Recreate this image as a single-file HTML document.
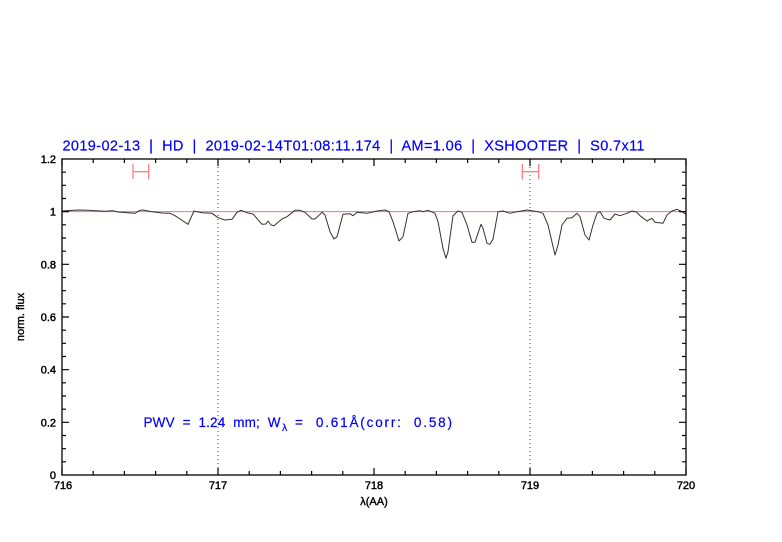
<!DOCTYPE html>
<html><head><meta charset="utf-8"><style>
html,body{margin:0;padding:0;background:#fff;}
svg{display:block;}
text{font-family:"Liberation Sans",sans-serif;}
</style></head><body>
<svg width="782" height="542" viewBox="0 0 782 542" xmlns="http://www.w3.org/2000/svg">
<rect width="782" height="542" fill="#fff"/>
<!-- title -->
<text x="62.5" y="150.5" font-size="14.5" fill="#0000ff" stroke="#0000ff" stroke-width="0.2" textLength="582" lengthAdjust="spacing" xml:space="preserve">2019-02-13  |  HD  |  2019-02-14T01:08:11.174  |  AM=1.06  |  XSHOOTER  |  S0.7x11</text>
<!-- dotted verticals -->
<line x1="218" y1="159" x2="218" y2="475" stroke="#444" stroke-width="1" stroke-dasharray="1,3"/>
<line x1="530" y1="159" x2="530" y2="475" stroke="#444" stroke-width="1" stroke-dasharray="1,3"/>
<!-- red unity line -->
<line x1="62" y1="211.67" x2="686" y2="211.67" stroke="#ff7070" stroke-width="1"/>
<!-- brackets -->
<g stroke="#ff8080" stroke-width="1.3" fill="none">
<path d="M133 171.7H148.7M133 163.5V179.3M148.7 163.5V179.3"/>
<path d="M522.3 171.7H538.7M522.3 164V179.3M538.7 164V179.3"/>
</g>
<!-- spectrum -->
<polyline fill="none" stroke="#333" stroke-width="1" stroke-linejoin="round" points="62,211 78,210 88,210.3 105,211.3 113,210.7 118,212 135,213.3 140,210.3 143,210 152,211.7 162,213 170,213.3 175,215.7 180,219 188,224.3 194,211 202,212.7 212,213.3 218,217.7 225,220 232,219.3 237,212.3 241,210.3 247,212.7 253,214 262,224.3 266,224 268,221 271,225 274,225.7 282,219 287,216.7 295,210.3 300,210.3 305,212.3 312,219 315,219 322,212.3 325,215 330,231.7 334,239 337,236.7 343,214.3 350,213.7 353,215.7 357,212.3 367,213.3 377,211 385,210 389,211.7 393,221.7 399,241 403,236.7 408,213.3 413,211.7 420,210.7 423,211.7 428,210.3 435,213.3 438,221.7 443,248.3 446,258.3 448,251.7 453,215.7 458,211 462,212.3 467,225 472,242.3 475,242.3 481,224.3 483,228.3 487,243.3 490,244.3 493,239 498,211.7 503,211 510,213.3 517,211.7 527,210 538,211.7 543,213.3 548,225 555,255 558,245 562,225 567,218.3 572,217.7 577,213.3 580,216.7 585,235 589,240 593,225 597,213.3 600,211.7 604,218.3 610,220 615,214 620,215.7 627,213.3 632,211 637,212.3 640,215.7 647,221 652,218.3 655,222.3 663,223.3 667,215 672,211 677,209.3 682,211.7 686,214.3"/>
<!-- frame -->
<rect x="62" y="159" width="624" height="316" fill="none" stroke="#000" stroke-width="1.3"/>
<!-- ticks -->
<path stroke="#000" stroke-width="1.2" fill="none" d="
M62 475V468M218 475V468M374 475V468M530 475V468M686 475V468
M93.2 475V471M124.4 475V471M155.6 475V471M186.8 475V471M249.2 475V471M280.4 475V471M311.6 475V471M342.8 475V471M405.2 475V471M436.4 475V471M467.6 475V471M498.8 475V471M561.2 475V471M592.4 475V471M623.6 475V471M654.8 475V471
M62 159V166M218 159V166M374 159V166M530 159V166M686 159V166
M93.2 159V163M124.4 159V163M155.6 159V163M186.8 159V163M249.2 159V163M280.4 159V163M311.6 159V163M342.8 159V163M405.2 159V163M436.4 159V163M467.6 159V163M498.8 159V163M561.2 159V163M592.4 159V163M623.6 159V163M654.8 159V163
M62 422.33H69M62 369.67H69M62 317H69M62 264.33H69M62 211.67H69
M62 461.83H66M62 448.67H66M62 435.5H66M62 409.17H66M62 396H66M62 382.83H66M62 356.5H66M62 343.33H66M62 330.17H66M62 303.83H66M62 290.67H66M62 277.5H66M62 251.17H66M62 238H66M62 224.83H66M62 198.5H66M62 185.33H66M62 172.17H66
M686 422.33H679M686 369.67H679M686 317H679M686 264.33H679M686 211.67H679
M686 461.83H682M686 448.67H682M686 435.5H682M686 409.17H682M686 396H682M686 382.83H682M686 356.5H682M686 343.33H682M686 330.17H682M686 303.83H682M686 290.67H682M686 277.5H682M686 251.17H682M686 238H682M686 224.83H682M686 198.5H682M686 185.33H682M686 172.17H682
"/>
<!-- y tick labels -->
<g font-size="11" fill="#000" stroke="#000" stroke-width="0.45" text-anchor="end">
<text x="56" y="479">0</text>
<text x="56" y="426.3">0.2</text>
<text x="56" y="373.7">0.4</text>
<text x="56" y="321">0.6</text>
<text x="56" y="268.3">0.8</text>
<text x="56" y="215.7">1</text>
<text x="56" y="163">1.2</text>
</g>
<!-- x tick labels -->
<g font-size="11" fill="#000" stroke="#000" stroke-width="0.45" text-anchor="middle">
<text x="63" y="489">716</text>
<text x="218" y="489">717</text>
<text x="374" y="489">718</text>
<text x="530" y="489">719</text>
<text x="686" y="489">720</text>
</g>
<!-- axis titles -->
<text x="374" y="505" font-size="11" text-anchor="middle" fill="#000" stroke="#000" stroke-width="0.4">λ(AA)</text>
<text transform="translate(24,317) rotate(-90)" font-size="11" text-anchor="middle" fill="#000" stroke="#000" stroke-width="0.4">norm. flux</text>
<!-- PWV annotation -->
<g font-size="13.5" fill="#0000ff" stroke="#0000ff" stroke-width="0.2">
<text x="143.5" y="427" textLength="137" lengthAdjust="spacing" xml:space="preserve">PWV  =  1.24  mm;  W</text>
<text x="282" y="431" font-size="10.5">λ</text>
<text x="295" y="427" textLength="157" lengthAdjust="spacing" xml:space="preserve">=  0.61Å(corr:  0.58)</text>
</g>
</svg>
</body></html>
